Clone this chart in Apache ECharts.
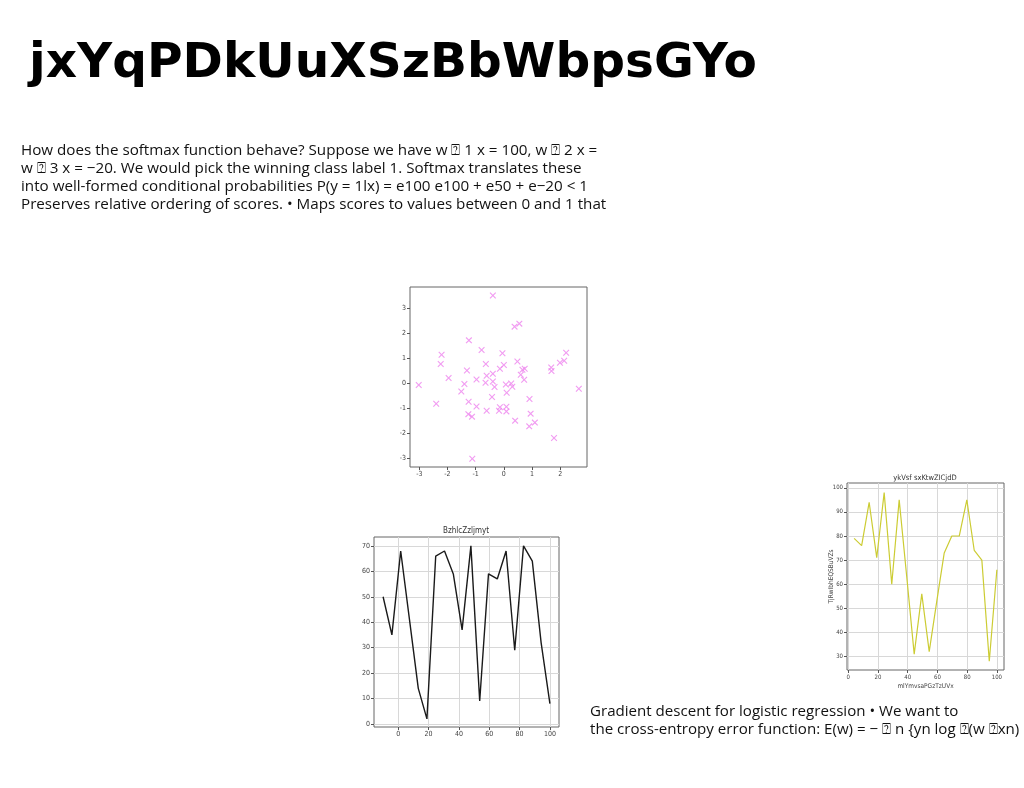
<!DOCTYPE html>
<html><head><meta charset="utf-8">
<script src="https://cdn.jsdelivr.net/npm/echarts@6/dist/echarts.min.js"></script>
<style>html,body{margin:0;padding:0;background:#fff}#c{width:1024px;height:788px}</style>
</head><body><div id="c"></div>
<script>
// ---------- data ----------
const mainTitle = "jxYqPDkUuXSzBbWbpsGYo";
const paraLines = [
  "How does the softmax function behave? Suppose we have w \u2370 1 x = 100, w \u2370 2 x =",
  "w \u2370 3 x = \u221220. We would pick the winning class label 1. Softmax translates these",
  "into well-formed conditional probabilities P(y = 1lx) = e100 e100 + e50 + e\u221220 < 1",
  "Preserves relative ordering of scores. \u2022 Maps scores to values between 0 and 1 that"
];
const footLines = [
  "Gradient descent for logistic regression \u2022 We want to",
  "the cross-entropy error function: E(w) = \u2212 \u2370 n {yn log \u2370(w \u2370xn)"
];

const scatterX = [-0.39,0.38,0.55,-1.24,-0.79,-0.05,-2.21,-2.24,-0.64,0.48,-1.31,0.0,-0.14,0.66,0.74,0.60,-0.39,-0.61,-1.96,-0.97,0.72,1.68,1.69,1.99,2.14,2.21,2.66,-3.02,-1.40,-1.51,-0.65,-0.39,-0.33,0.07,0.26,0.30,0.10,-0.42,0.91,-2.40,-1.25,-0.97,-0.14,0.09,-0.61,-0.17,0.09,-1.26,-1.13,0.95,0.40,1.10,0.90,1.78,-1.12];
const scatterY = [3.52,2.27,2.39,1.72,1.33,1.20,1.14,0.77,0.77,0.87,0.51,0.73,0.58,0.54,0.58,0.34,0.38,0.30,0.21,0.15,0.14,0.63,0.49,0.82,0.90,1.22,-0.22,-0.07,-0.03,-0.33,0.02,0.07,-0.15,-0.05,-0.01,-0.14,-0.38,-0.55,-0.63,-0.82,-0.74,-0.93,-0.96,-0.94,-1.10,-1.10,-1.13,-1.24,-1.34,-1.22,-1.50,-1.58,-1.73,-2.20,-3.03];
const scatterXTicks = [-3,-2,-1,0,1,2];
const scatterYTicks = [-3,-2,-1,0,1,2,3];

const blackTitle = "BzhlcZzljmyt";
const blackX = [-10,-4.2,1.6,7.4,13.2,18.9,24.7,30.5,36.3,42.1,47.9,53.7,59.5,65.3,71.1,76.8,82.6,88.4,94.2,100];
const blackY = [50,35,68,41,14,2,66,68,59,37,70,9,59,57,68,29,70,64,32,8];
const blackXTicks = [0,20,40,60,80,100];
const blackYTicks = [0,10,20,30,40,50,60,70];

const yellowTitle = "ykVsf sxKtwZICjdD";
const yellowXName = "mlYmvsaPGzTzUVx";
const yellowYName = "TjRwIbhEQSBuVZs";
const yellowX = [4,9.05,14.1,19.2,24.2,29.3,34.3,39.4,44.4,49.5,54.5,59.6,64.6,69.7,74.7,79.8,84.8,89.9,94.9,100];
const yellowY = [79,76,94,71,98,60,95,63,31,56,32,53,73,80,80,95,74,70,28,66];
const yellowXTicks = [0,20,40,60,80,100];
const yellowYTicks = [30,40,50,60,70,80,90,100];

// ---------- chart ----------
const zip = (a,b)=>a.map((v,i)=>[v,b[i]]);
const smallFont = "'DejaVu Sans Condensed', 'DejaVu Sans'";
function valAxis(gi, min, max, ticks, grid, fs, extra){
  return Object.assign({
    type:'value', gridIndex:gi, min:min, max:max, scale:true,
    axisLine:{show:false, onZero:false},
    axisTick:{show:true, length:3, lineStyle:{color:'#555'}, customValues:ticks},
    axisLabel:{margin:4, customValues:ticks, fontSize:fs, color:'#444', fontFamily:smallFont},
    splitLine:{show:grid, lineStyle:{color:'#d8d8d8', width:1}}
  }, extra||{});
}
const gridBox = {show:true, borderColor:'#666', borderWidth:1, backgroundColor:'transparent', outerBoundsMode:'none', containLabel:false};
const xSym = 'path://M0,1.2L1.2,0L5,3.8L8.8,0L10,1.2L6.2,5L10,8.8L8.8,10L5,6.2L1.2,10L0,8.8L3.8,5Z';
const nameStyle = {fontSize:6.5, color:'#444', fontFamily:smallFont};

const option = {
  animation:false,
  title:[
    {text:mainTitle, left:29, top:40, padding:0, textStyle:{fontFamily:'DejaVu Sans', fontWeight:'bold', fontSize:48.6, color:'#000'}},
    {text:paraLines.join('\n'), left:21, top:142, padding:0, textStyle:{fontFamily:'Open Sans', fontWeight:'normal', fontSize:15.2, lineHeight:18, color:'#111'}},
    {text:footLines.join('\n'), left:590, top:703, padding:0, textStyle:{fontFamily:'Open Sans', fontWeight:'normal', fontSize:15.1, lineHeight:17.5, color:'#111'}},
    {text:blackTitle, left:466, top:527, padding:0, textAlign:'center', textStyle:{fontFamily:smallFont, fontWeight:'normal', fontSize:8, color:'#333'}},
    {text:yellowTitle, left:925, top:474, padding:0, textAlign:'center', textStyle:{fontFamily:smallFont, fontWeight:'normal', fontSize:7.5, color:'#333'}}
  ],
  grid:[
    Object.assign({left:410, top:287, width:177, height:180}, gridBox),
    Object.assign({left:374, top:537, width:185, height:190}, gridBox),
    Object.assign({left:847, top:483, width:157, height:187}, gridBox)
  ],
  xAxis:[
    valAxis(0, -3.33, 2.95, scatterXTicks, false, 7),
    valAxis(1, -16, 106, blackXTicks, true, 7),
    valAxis(2, -0.8, 104.8, yellowXTicks, true, 6, {name:yellowXName, nameLocation:'middle', nameGap:13, nameMoveOverlap:false, nameTextStyle:nameStyle})
  ],
  yAxis:[
    valAxis(0, -3.36, 3.86, scatterYTicks, false, 7),
    valAxis(1, -1.2, 73.5, blackYTicks, true, 7),
    valAxis(2, 24.4, 102, yellowYTicks, true, 6, {name:yellowYName, nameLocation:'middle', nameGap:12, nameMoveOverlap:false, nameTextStyle:nameStyle})
  ],
  series:[
    {type:'scatter', xAxisIndex:0, yAxisIndex:0, data:zip(scatterX, scatterY), symbol:xSym, symbolSize:6.5, itemStyle:{color:'#ee82ee'}},
    {type:'line', xAxisIndex:1, yAxisIndex:1, data:zip(blackX, blackY), showSymbol:false, lineStyle:{color:'#1a1a1a', width:1.4}},
    {type:'line', xAxisIndex:2, yAxisIndex:2, data:zip(yellowX, yellowY), showSymbol:false, lineStyle:{color:'#cccc33', width:1.2}}
  ]
};
const chart = echarts.init(document.getElementById('c'), null, {renderer:'canvas'});
chart.setOption(option);
</script></body></html>
